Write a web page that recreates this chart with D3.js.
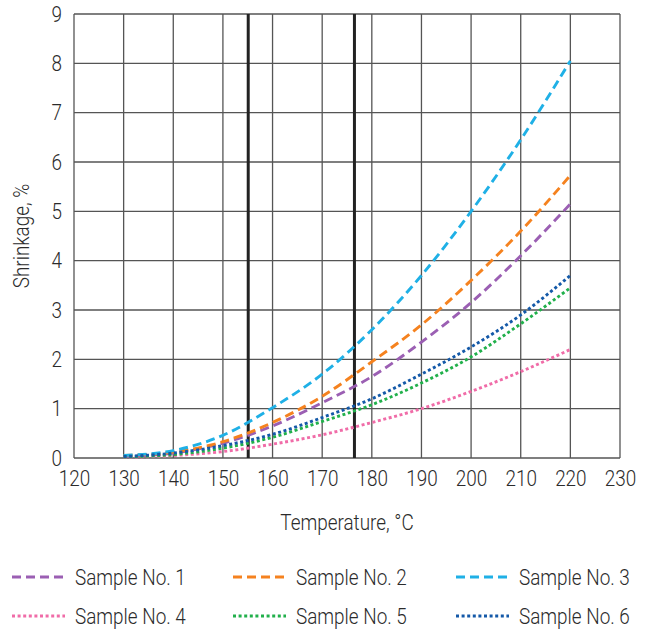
<!DOCTYPE html>
<html lang="en">
<head>
	<meta charset="UTF-8">
	<title>Shrinkage vs temperature</title>
	<script src="https://cdn.jsdelivr.net/npm/d3@7"></script>
	<style>
		body { margin: 0; background: #fff; }
		text { font-family: "Roboto", sans-serif; font-weight: 300; fill: #2b2b2b; }
		.grid line { stroke: #555; stroke-width: 1.3; }
	</style>
</head>
<body>
<script type="text/javascript">

	var temps = [130, 140, 150, 160, 170, 180, 190, 200, 210, 220];

	var sample1 = [0.03, 0.10, 0.30, 0.65, 1.12, 1.65, 2.35, 3.15, 4.10, 5.15];
	var sample2 = [0.05, 0.12, 0.33, 0.72, 1.25, 1.95, 2.70, 3.60, 4.60, 5.73];
	var sample3 = [0.05, 0.15, 0.46, 1.02, 1.70, 2.60, 3.70, 5.00, 6.45, 8.05];
	var sample4 = [0.01, 0.05, 0.13, 0.28, 0.47, 0.72, 1.00, 1.35, 1.75, 2.20];
	var sample5 = [0.02, 0.07, 0.20, 0.42, 0.74, 1.08, 1.52, 2.05, 2.72, 3.45];
	var sample6 = [0.03, 0.10, 0.25, 0.48, 0.82, 1.20, 1.70, 2.25, 2.90, 3.70];

	var seriesNames = ['Sample No. 1', 'Sample No. 2', 'Sample No. 3', 'Sample No. 4', 'Sample No. 5', 'Sample No. 6'];
	var markers = [155.1, 176.5];
	var xTicks = [120, 130, 140, 150, 160, 170, 180, 190, 200, 210, 220, 230];
	var yTicks = [0, 1, 2, 3, 4, 5, 6, 7, 8, 9];

	var series = [
		{name: seriesNames[0], values: sample1, color: '#9b5fb3', dash: '9,5'},
		{name: seriesNames[1], values: sample2, color: '#f5821f', dash: '9,5'},
		{name: seriesNames[2], values: sample3, color: '#1fb0e6', dash: '9,5'},
		{name: seriesNames[3], values: sample4, color: '#f06ca8', dash: '3,2.6'},
		{name: seriesNames[4], values: sample5, color: '#21b04b', dash: '3,2.6'},
		{name: seriesNames[5], values: sample6, color: '#1459a8', dash: '3,2.6'}
	];

	var squeeze = 'scale(0.86,1)';

	var margin = {top: 14, left: 74, right: 27, bottom: 171};
	var W = 647, H = 629;
	var width = W - margin.left - margin.right,
		height = H - margin.top - margin.bottom;

	var svg = d3.select('body').append('svg')
		.attr('width', W)
		.attr('height', H);

	var g = svg.append('g')
		.attr('transform', 'translate(' + margin.left + ',' + margin.top + ')');

	var x = d3.scaleLinear().domain([120, 230]).range([0, width]);
	var y = d3.scaleLinear().domain([0, 9]).range([height, 0]);

	// grid
	var grid = g.append('g').attr('class', 'grid');
	grid.selectAll('.vx').data(xTicks).enter().append('line')
		.attr('x1', function (d) { return x(d); })
		.attr('x2', function (d) { return x(d); })
		.attr('y1', 0).attr('y2', height);
	grid.selectAll('.hy').data(yTicks).enter().append('line')
		.attr('x1', 0).attr('x2', width)
		.attr('y1', function (d) { return y(d); })
		.attr('y2', function (d) { return y(d); });

	// tick labels
	g.append('g').attr('class', 'axis axis--x')
		.attr('transform', 'translate(0,' + height + ')')
		.call(d3.axisBottom(x).tickValues(xTicks).tickSize(0).tickPadding(12))
		.call(function (a) {
			a.select('.domain').remove();
			a.selectAll('text').attr('font-size', 22).attr('fill', null)
				.attr('font-family', null).attr('transform', squeeze);
		});

	g.append('g').attr('class', 'axis axis--y')
		.call(d3.axisLeft(y).tickValues(yTicks).tickSize(0).tickPadding(12))
		.call(function (a) {
			a.select('.domain').remove();
			a.selectAll('text').attr('font-size', 22).attr('fill', null)
				.attr('font-family', null).attr('transform', squeeze);
		});
	g.select('.axis--y').selectAll('.tick text').attr('x', -12 / 0.86);

	// marker lines
	g.selectAll('.marker').data(markers).enter().append('line')
		.attr('class', 'marker')
		.attr('x1', function (d) { return x(d); })
		.attr('x2', function (d) { return x(d); })
		.attr('y1', 0).attr('y2', height)
		.attr('stroke', '#222').attr('stroke-width', 3);

	// curves
	var line = d3.line()
		.x(function (d) { return x(d[0]); })
		.y(function (d) { return y(d[1]); })
		.curve(d3.curveMonotoneX);

	g.selectAll('.curve').data(series).enter().append('path')
		.attr('class', 'curve')
		.attr('fill', 'none')
		.attr('stroke', function (d) { return d.color; })
		.attr('stroke-width', 2.9)
		.attr('stroke-dasharray', function (d) { return d.dash; })
		.attr('d', function (d) {
			return line(temps.map(function (t, i) { return [t, d.values[i]]; }));
		});

	// axis titles
	svg.append('g')
		.attr('transform', 'translate(' + (margin.left + width / 2) + ',530) ' + squeeze)
		.append('text')
		.attr('text-anchor', 'middle')
		.attr('font-size', 22)
		.text('Temperature, °C');

	svg.append('g')
		.attr('transform', 'translate(29,' + (margin.top + height / 2) + ') rotate(-90) ' + squeeze)
		.append('text')
		.attr('text-anchor', 'middle')
		.attr('font-size', 22)
		.text('Shrinkage, %');

	// legend
	var colX = [12, 233, 456];
	var rowY = [577, 616];
	var leg = svg.selectAll('.legend').data(series).enter().append('g')
		.attr('class', 'legend')
		.attr('transform', function (d, i) {
			return 'translate(' + colX[i % 3] + ',' + rowY[Math.floor(i / 3)] + ')';
		});
	leg.append('line')
		.attr('x1', 0).attr('x2', 53)
		.attr('y1', 0).attr('y2', 0)
		.attr('stroke', function (d) { return d.color; })
		.attr('stroke-width', 2.9)
		.attr('stroke-dasharray', function (d) { return d.dash; });
	leg.append('g')
		.attr('transform', 'translate(63,0) ' + squeeze)
		.append('text')
		.attr('dy', '0.35em')
		.attr('font-size', 22)
		.text(function (d) { return d.name; });

</script>
</body>
</html>
